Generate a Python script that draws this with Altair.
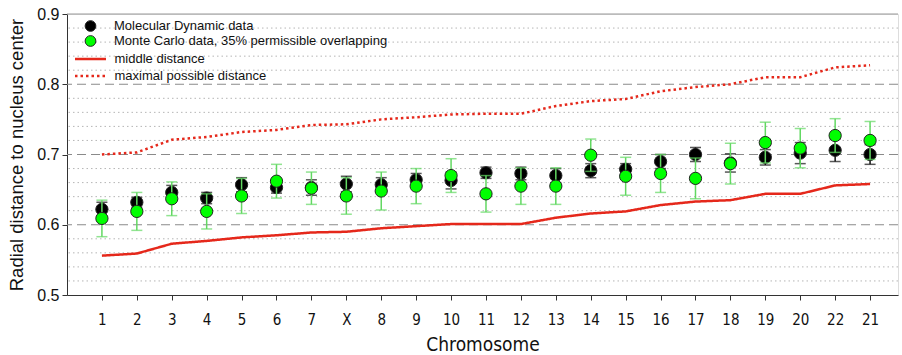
import altair as alt
import pandas as pd

# Chromosomes in plotting order
chromosomes = ["1", "2", "3", "4", "5", "6", "7", "X", "8", "9", "10", "11",
               "12", "13", "14", "15", "16", "17", "18", "19", "20", "22", "21"]

# Molecular Dynamic data: mean radial distance and error
md_mean = [0.622, 0.632, 0.646, 0.638, 0.657, 0.653, 0.653, 0.658, 0.657, 0.664, 0.663, 0.674,
           0.673, 0.670, 0.677, 0.679, 0.690, 0.700, 0.688, 0.696, 0.702, 0.706, 0.700]
md_err = [0.010, 0.007, 0.010, 0.008, 0.010, 0.008, 0.011, 0.011, 0.010, 0.009, 0.012, 0.008,
          0.009, 0.010, 0.010, 0.008, 0.010, 0.010, 0.013, 0.011, 0.015, 0.016, 0.014]

# Monte Carlo data (35% permissible overlapping): mean and error
mc_mean = [0.609, 0.619, 0.637, 0.619, 0.641, 0.662, 0.652, 0.641, 0.648, 0.655, 0.670, 0.644,
           0.655, 0.655, 0.699, 0.669, 0.673, 0.666, 0.687, 0.717, 0.709, 0.727, 0.720]
mc_err = [0.026, 0.027, 0.024, 0.025, 0.025, 0.024, 0.023, 0.026, 0.027, 0.025, 0.024, 0.026,
          0.026, 0.026, 0.023, 0.027, 0.027, 0.029, 0.029, 0.029, 0.028, 0.024, 0.027]

# Reference distances
middle_dist = [0.556, 0.559, 0.573, 0.577, 0.582, 0.585, 0.589, 0.590, 0.595, 0.598, 0.601, 0.601,
               0.601, 0.610, 0.616, 0.619, 0.628, 0.633, 0.635, 0.644, 0.644, 0.656, 0.658]
max_dist = [0.700, 0.703, 0.721, 0.725, 0.732, 0.735, 0.742, 0.743, 0.750, 0.753, 0.757, 0.758,
            0.758, 0.769, 0.776, 0.779, 0.790, 0.796, 0.800, 0.810, 0.810, 0.824, 0.827]

y_ticks = [0.5, 0.6, 0.7, 0.8, 0.9]
minor_grid = [0.52, 0.54, 0.56, 0.58, 0.62, 0.64, 0.66, 0.68, 0.72, 0.74, 0.76, 0.78,
              0.82, 0.84, 0.86, 0.88]
major_grid = [0.6, 0.7, 0.8]
top_frame = [0.9]

MD = "Molecular Dynamic data"
MC = "Monte Carlo data, 35% permissible overlapping"
MID = "middle distance"
MAXD = "maximal possible distance"

n = len(chromosomes)
pos = list(range(1, n + 1))

md_df = pd.DataFrame({"pos": pos, "series": MD, "value": md_mean, "err": md_err})
mc_df = pd.DataFrame({"pos": pos, "series": MC, "value": mc_mean, "err": mc_err})
for d in (md_df, mc_df):
    d["lo"] = d["value"] - d["err"]
    d["hi"] = d["value"] + d["err"]

lines_df = pd.DataFrame({
    "pos": pos * 2,
    "series": [MID] * n + [MAXD] * n,
    "value": middle_dist + max_dist,
})

RED = "#e5281b"
FONT = "Liberation Sans"
NARROW = "Liberation Sans Narrow, DejaVu Sans Condensed, Liberation Sans"

label_js = "[" + ",".join(f"'{c}'" for c in chromosomes) + "]"

x_scale = alt.Scale(domain=[0, 23.8], nice=False, zero=False)
x_axis = alt.Axis(values=pos, labelExpr=f"{label_js}[datum.value - 1]", title="Chromosome",
                  grid=False, tickSize=5, tickColor="#333", domainColor="#333",
                  labelFont=NARROW, labelFontSize=15, labelPadding=12, labelColor="#111",
                  titleFont=NARROW, titleFontSize=19, titleFontWeight="normal",
                  titlePadding=8, titleColor="#111")

y_scale = alt.Scale(domain=[0.5, 0.9], nice=False, zero=False)
y_axis = alt.Axis(values=y_ticks, format=".1f", title="Radial distance to nucleus center",
                  grid=False, tickSize=5, tickColor="#333", domainColor="#333",
                  labelFont=FONT, labelFontSize=16, labelPadding=3, labelColor="#111",
                  titleFont=FONT, titleFontSize=18.5, titleFontWeight="normal",
                  titlePadding=10, titleColor="#111")


def X(field="pos"):
    return alt.X(f"{field}:Q", scale=x_scale, axis=x_axis)


def Y(field):
    return alt.Y(f"{field}:Q", scale=y_scale, axis=y_axis)


# Gridlines
minor = alt.Chart(pd.DataFrame({"v": minor_grid})).mark_rule(
    color="#b5b5b5", strokeDash=[1.5, 3], strokeWidth=1).encode(y=Y("v"))
major = alt.Chart(pd.DataFrame({"v": major_grid})).mark_rule(
    color="#8a8a8a", strokeDash=[9, 5], strokeWidth=1.2).encode(y=Y("v"))
top = alt.Chart(pd.DataFrame({"v": top_frame})).mark_rule(
    color="#999999", strokeWidth=1.2).encode(y=Y("v"))

# Reference distance curves
line_legend = alt.Legend(title=None, orient="none", legendX=6.5, legendY=36.5,
                         symbolType="stroke", symbolSize=961, symbolStrokeColor=RED,
                         symbolStrokeWidth=2.5, labelFont=FONT, labelFontSize=13,
                         labelColor="#111", labelOffset=7, clipHeight=17, rowPadding=0,
                         padding=0, labelLimit=500)
curves = alt.Chart(lines_df).mark_line(color=RED, strokeWidth=2.5).encode(
    x=X(), y=Y("value"),
    strokeDash=alt.StrokeDash("series:N",
                              scale=alt.Scale(domain=[MID, MAXD], range=[[1, 0], [2.5, 3]]),
                              legend=line_legend),
)

point_legend = alt.Legend(title=None, orient="none", legendX=17, legendY=5.5,
                          symbolType="circle", symbolSize=115, symbolStrokeColor="#222",
                          symbolStrokeWidth=1, labelFont=FONT, labelFontSize=13,
                          labelColor="#111", labelOffset=17, rowPadding=0,
                          padding=0, labelLimit=500)
color = alt.Color("series:N", scale=alt.Scale(domain=[MD, MC], range=["#000000", "#00ff00"]),
                  legend=point_legend)


def error_layers(df, col, cap):
    stem = alt.Chart(df).mark_rule(color=col, strokeWidth=1.5).encode(
        x=X(), y=Y("lo"), y2="hi:Q")
    caps = alt.Chart(df).transform_fold(["lo", "hi"], as_=["end", "yv"]).mark_tick(
        orient="horizontal", color=col, size=cap, thickness=1.5).encode(x=X(), y=Y("yv"))
    return stem + caps


def point_layer(df):
    return alt.Chart(df).mark_point(filled=True, size=150, stroke="#222", strokeWidth=1,
                                    opacity=1).encode(x=X(), y=Y("value"), color=color)


chart = alt.layer(
    minor, major, top, curves,
    error_layers(md_df, "#111111", 11), point_layer(md_df),
    error_layers(mc_df, "#62d862", 11), point_layer(mc_df),
).properties(
    width=831, height=281,
    padding={"left": 67, "top": 14, "right": 4, "bottom": 60},
    autosize=alt.AutoSizeParams(type="none"),
).configure_view(stroke=None).configure(background="white", font=FONT)

chart.save("out.html", embed_options={"renderer": "svg", "actions": False})
